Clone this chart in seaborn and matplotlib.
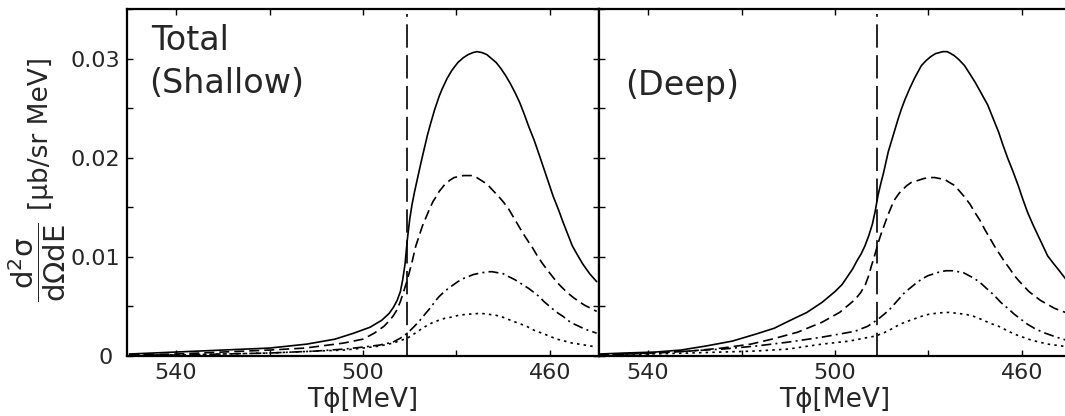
import matplotlib
matplotlib.use("Agg")
import matplotlib.pyplot as plt
import seaborn as sns
import pandas as pd
from matplotlib.ticker import MultipleLocator, FixedLocator, FuncFormatter

# ---------------- data ----------------
# Shallow panel
sh_total_T = [550, 540, 530, 520, 512, 506, 502, 498.5, 496, 494.4, 493.5, 492.7, 492, 491.5, 491,
              490.5, 490, 489.5, 489, 488.3, 487.5, 486.8, 486.2, 485.5, 484.7, 483.7, 483, 482, 481,
              479.7, 478.5, 477.5, 476.5, 475.6, 474.5, 473.5, 472.5, 471.5, 470.5, 469.5, 468.5,
              467.5, 466.5, 465.5, 464.5, 463.4, 462.3, 461.3, 460.3, 459.3, 458.2, 457.2, 456.2,
              455.2, 454, 453, 451.5, 450]
sh_total_v = [0.0002, 0.0004, 0.0006, 0.0008, 0.0012, 0.0017, 0.0023, 0.0029, 0.0036, 0.0043, 0.0049,
              0.0056, 0.0065, 0.0077, 0.0093, 0.0118, 0.0138, 0.0153, 0.0165, 0.0180, 0.0197, 0.0211,
              0.0223, 0.0235, 0.0248, 0.0262, 0.0270, 0.0280, 0.0288, 0.0296, 0.0301, 0.0304, 0.0306,
              0.0307, 0.0306, 0.0304, 0.0300, 0.0296, 0.0290, 0.0283, 0.0275, 0.0266, 0.0256, 0.0244,
              0.0231, 0.0218, 0.0203, 0.0189, 0.0175, 0.0161, 0.0148, 0.0135, 0.0123, 0.0111, 0.0101,
              0.0093, 0.0083, 0.0075]
sh_dash_T = [550, 540, 530, 520, 512.4, 504.2, 500, 497.6, 495.5, 494.5, 493.6, 492.8, 492, 491.3,
             490.5, 490, 489.5, 488.7, 488, 487.3, 486.5, 485.7, 485, 484.3, 483.7, 482.5, 481.5,
             480.5, 479.5, 478.5, 477.6, 476.8, 476, 475, 474, 473, 472, 471, 469.9, 468.8, 467.8,
             466.8, 465.8, 464.7, 463.7, 462.7, 461.7, 460.6, 459.6, 458.6, 457.6, 456.3, 455, 453.8,
             452.5, 451.2, 450]
sh_dash_v = [0.0001, 0.0002, 0.0004, 0.0006, 0.0008, 0.0013, 0.0017, 0.0023, 0.0030, 0.0035, 0.0040,
             0.0046, 0.0055, 0.0065, 0.0077, 0.0086, 0.0095, 0.0111, 0.0121, 0.0131, 0.0140, 0.0149,
             0.0156, 0.0161, 0.0166, 0.0173, 0.0177, 0.0180, 0.0181, 0.0182, 0.0182, 0.0182, 0.0181,
             0.0178, 0.0175, 0.0171, 0.0166, 0.0161, 0.0155, 0.0148, 0.0140, 0.0132, 0.0124, 0.0116,
             0.0109, 0.0101, 0.0094, 0.0087, 0.0081, 0.0075, 0.0070, 0.0064, 0.0059, 0.0055, 0.0051,
             0.0048, 0.0045]
sh_dd_T = [550, 540, 530, 520, 510, 504, 500, 496.5, 493.6, 492, 490.5, 489.2, 487.8, 486.6, 485.5,
           484.6, 483.7, 482.6, 481.5, 480.6, 479.7, 478.6, 477.5, 476.5, 475.6, 474.5, 473.3, 472.3,
           471.2, 470, 468.8, 467.5, 466.5, 465.5, 464.5, 463.4, 462.3, 461.3, 460.3, 459.3, 458.2,
           457.2, 456.2, 455.2, 453.8, 452.5, 451.2, 450]
sh_dd_v = [0.0001, 0.0001, 0.0002, 0.0003, 0.0005, 0.0007, 0.0009, 0.0011, 0.0014, 0.0018, 0.0023,
           0.0029, 0.0036, 0.0043, 0.0049, 0.0055, 0.0060, 0.0065, 0.0069, 0.0072, 0.0075, 0.0078,
           0.0080, 0.0082, 0.0083, 0.0084, 0.0085, 0.0085, 0.0084, 0.0083, 0.0080, 0.0077, 0.0074,
           0.0071, 0.0068, 0.0064, 0.0060, 0.0055, 0.0051, 0.0047, 0.0043, 0.0040, 0.0036, 0.0033,
           0.0030, 0.0027, 0.0025, 0.0023]
sh_dot_T = [550, 540, 530, 520, 510, 504, 500, 496.5, 493.6, 490.5, 488.5, 487.3, 486.2, 485, 483.8,
            482.5, 481.3, 479.6, 478, 476.5, 474.8, 473, 471.5, 470, 468.4, 466.7, 465, 463.4,
            461.7, 460.1, 458.5, 456.8, 455.2, 453.8, 452.5, 451.2, 450]
sh_dot_v = [0.00005, 0.0001, 0.0002, 0.0003, 0.0005, 0.0006, 0.0008, 0.0010, 0.0013, 0.0018, 0.0024,
            0.0028, 0.0031, 0.0034, 0.0036, 0.0038, 0.0039, 0.0041, 0.0042, 0.00425, 0.0043, 0.0042,
            0.0041, 0.0039, 0.0036, 0.0033, 0.0030, 0.0026, 0.0023, 0.0020, 0.0017, 0.0015, 0.0013,
            0.0012, 0.0011, 0.0010, 0.0009]

# Deep panel
dp_total_T = [550.5, 545, 538.4, 533, 527.7, 522, 517, 513, 510, 506, 502.8, 500, 498.5, 497.2, 496.2,
              495.3, 494.4, 493.6, 492.8, 492, 491.4, 490.8, 490.2, 489.6, 488.6, 487.9, 487.2, 486.5,
              485.8, 485, 484, 483, 482.2, 481.5, 480.5, 479.5, 478.5, 477.7, 476.9, 476, 475.2,
              474.5, 473.5, 472.3, 471.2, 470, 468.7, 467.3, 466.2, 465, 464, 463, 461.9, 460.8,
              459.8, 458.8, 457.6, 456.5, 455.5, 454.5, 453.2, 452, 450.7, 449.5]
dp_total_v = [0.0002, 0.0003, 0.0004, 0.0006, 0.0010, 0.0015, 0.0022, 0.0028, 0.0035, 0.0044, 0.0054,
              0.0065, 0.0072, 0.0081, 0.0088, 0.0096, 0.0103, 0.0111, 0.0121, 0.0133, 0.0146, 0.0162,
              0.0174, 0.0185, 0.0206, 0.0217, 0.0228, 0.0239, 0.0249, 0.0259, 0.0270, 0.0280, 0.0287,
              0.0293, 0.0298, 0.0302, 0.0305, 0.0306, 0.0307, 0.0307, 0.0305, 0.0303, 0.0299, 0.0293,
              0.0285, 0.0276, 0.0265, 0.0253, 0.0240, 0.0226, 0.0212, 0.0199, 0.0186, 0.0172, 0.0158,
              0.0145, 0.0132, 0.0121, 0.0111, 0.0101, 0.0093, 0.0086, 0.0078, 0.0071]
dp_dash_T = [550.5, 538.4, 531, 524.2, 518, 513.5, 508, 502.8, 499, 495.7, 494.5, 493.5, 492.8, 492.2,
             491.6, 491, 490.5, 490, 489.3, 488.6, 487.9, 487.2, 486.3, 485.5, 484.6, 483.7, 482.3,
             481, 479.8, 478.7, 477.6, 476.5, 475.5, 474.4, 473.3, 472.2, 471.1, 470.1, 469, 468,
             467, 465.9, 464.8, 463.7, 462.6, 461.6, 460.5, 459.5, 458.5, 457.4, 456, 454.5, 453,
             451.3, 449.5]
dp_dash_v = [0.0001, 0.0003, 0.0005, 0.0008, 0.0012, 0.0017, 0.0024, 0.0034, 0.0044, 0.0057, 0.0064,
             0.0072, 0.0081, 0.0091, 0.0100, 0.0110, 0.0118, 0.0125, 0.0134, 0.0143, 0.0151, 0.0158,
             0.0164, 0.0168, 0.0172, 0.0175, 0.0177, 0.0179, 0.0180, 0.0180, 0.0179, 0.0178, 0.0175,
             0.0172, 0.0166, 0.0160, 0.0153, 0.0145, 0.0137, 0.0128, 0.0120, 0.0111, 0.0103, 0.0095,
             0.0088, 0.0081, 0.0075, 0.0070, 0.0065, 0.0061, 0.0056, 0.0052, 0.0048, 0.0045, 0.0042]
dp_dd_T = [550.5, 540, 531.3, 524, 517, 510, 502.8, 498, 495.7, 493, 490.8, 488.5, 486.8, 485.1, 483.8,
           482.5, 481.3, 480.1, 478.8, 477.5, 476.2, 474.8, 473.6, 472.5, 471.3, 470.1, 468.7, 467.3,
           465.9, 464.5, 463, 461.6, 460.2, 458.8, 457, 455, 453.2, 451.3, 449.5]
dp_dd_v = [0.0001, 0.0003, 0.0005, 0.0007, 0.0010, 0.0014, 0.0019, 0.0023, 0.0025, 0.0030, 0.0037,
           0.0046, 0.0055, 0.0064, 0.0069, 0.0074, 0.0078, 0.0081, 0.0083, 0.0085, 0.0086, 0.0086,
           0.0085, 0.0084, 0.0081, 0.0078, 0.0073, 0.0067, 0.0061, 0.0054, 0.0048, 0.0042, 0.0037,
           0.0032, 0.0027, 0.0023, 0.0020, 0.0017, 0.0015]
dp_dot_T = [550.5, 540, 531.3, 517, 510, 502.8, 497, 491.5, 489.7, 488, 486.5, 485.1, 483.3, 481.5,
            480, 478.5, 477, 475.5, 473.8, 472, 470.3, 468.7, 466.8, 465, 463.3, 461.6, 459.8, 458,
            456.2, 454.5, 452.9, 451.3, 449.5]
dp_dot_v = [0.0001, 0.0002, 0.0003, 0.0005, 0.0007, 0.0012, 0.0015, 0.0020, 0.0023, 0.0027, 0.0031,
            0.0034, 0.0037, 0.0040, 0.0042, 0.0043, 0.00437, 0.0044, 0.0043, 0.0042, 0.0040, 0.0037,
            0.0033, 0.0030, 0.0026, 0.0022, 0.0019, 0.0016, 0.0014, 0.0012, 0.0011, 0.0010, 0.0009]

threshold_T = [490.5, 491.0]          # vertical dashed line, Shallow / Deep
panel_titles = [["Total", "(Shallow)"], ["(Deep)"]]
x_major = [540, 500, 460]
y_major = [0, 0.01, 0.02, 0.03]

# ---------------- styling ----------------
sns.set_style("ticks")
plt.rcParams["font.family"] = ["DejaVu Sans"]
plt.rcParams["mathtext.fontset"] = "dejavusans"
plt.rcParams["mathtext.default"] = "regular"

fig = plt.figure(figsize=(10.65, 4.16), dpi=100)
W, H = 1065, 416
ax_l = fig.add_axes([127 / W, (H - 356) / H, 472 / W, 347 / H])
ax_r = fig.add_axes([599 / W, (H - 356) / H, 472 / W, 347 / H])

styles = {
    "total": dict(linestyle="-"),
    "dash": dict(linestyle=(0, (6, 3))),
    "dd": dict(linestyle=(0, (6, 2.5, 1.2, 2.5))),
    "dot": dict(linestyle=(0, (1.5, 2.5))),
}

panels = [
    (ax_l, [(sh_total_T, sh_total_v, "total"), (sh_dash_T, sh_dash_v, "dash"),
            (sh_dd_T, sh_dd_v, "dd"), (sh_dot_T, sh_dot_v, "dot")], threshold_T[0]),
    (ax_r, [(dp_total_T, dp_total_v, "total"), (dp_dash_T, dp_dash_v, "dash"),
            (dp_dd_T, dp_dd_v, "dd"), (dp_dot_T, dp_dot_v, "dot")], threshold_T[1]),
]

for ax, curves, thr in panels:
    for T, v, key in curves:
        df = pd.DataFrame({"T": T, "v": v})
        sns.lineplot(data=df, x="T", y="v", ax=ax, color="black", linewidth=1.2,
                     estimator=None, sort=False, **styles[key])
    ax.axvline(thr, ymin=0, ymax=0.985, color="black", linewidth=1.2,
               linestyle=(0, (14, 4.5)))
    ax.set_xlim(550.5, 449.5)
    ax.set_ylim(0, 0.035)
    ax.xaxis.set_major_locator(FixedLocator(x_major))
    ax.xaxis.set_minor_locator(MultipleLocator(20))
    ax.yaxis.set_major_locator(FixedLocator(y_major))
    ax.yaxis.set_minor_locator(MultipleLocator(0.005))
    ax.tick_params(which="both", direction="in", top=True, right=True, length=4, width=1.0,
                   color="black", labelsize=16, pad=5)
    for s in ax.spines.values():
        s.set_linewidth(1.6)
        s.set_color("black")
    ax.set_xlabel("Tϕ[MeV]", fontsize=19, labelpad=3)
    ax.set_ylabel("")

ax_l.yaxis.set_major_formatter(FuncFormatter(lambda v, p: "0 " if v == 0 else f"{v:.2f}"))
ax_r.tick_params(labelleft=False)

# y-axis label: fraction + unit, as two rotated texts
fig.text(37 / W, 1 - 262 / H, r"$\dfrac{d^2\sigma}{d\Omega dE}$", rotation=90, fontsize=21,
         ha="center", va="center")
fig.text(41 / W, 1 - 133 / H, "[μb/sr MeV]", rotation=90, fontsize=19, ha="center", va="center")

ax_l.text(0.051, 0.882, panel_titles[0][0], transform=ax_l.transAxes, fontsize=24, va="baseline")
ax_l.text(0.047, 0.758, panel_titles[0][1], transform=ax_l.transAxes, fontsize=24, va="baseline")
ax_r.text(0.055, 0.752, panel_titles[1][0], transform=ax_r.transAxes, fontsize=24, va="baseline")

fig.savefig("out.png", dpi=100)
